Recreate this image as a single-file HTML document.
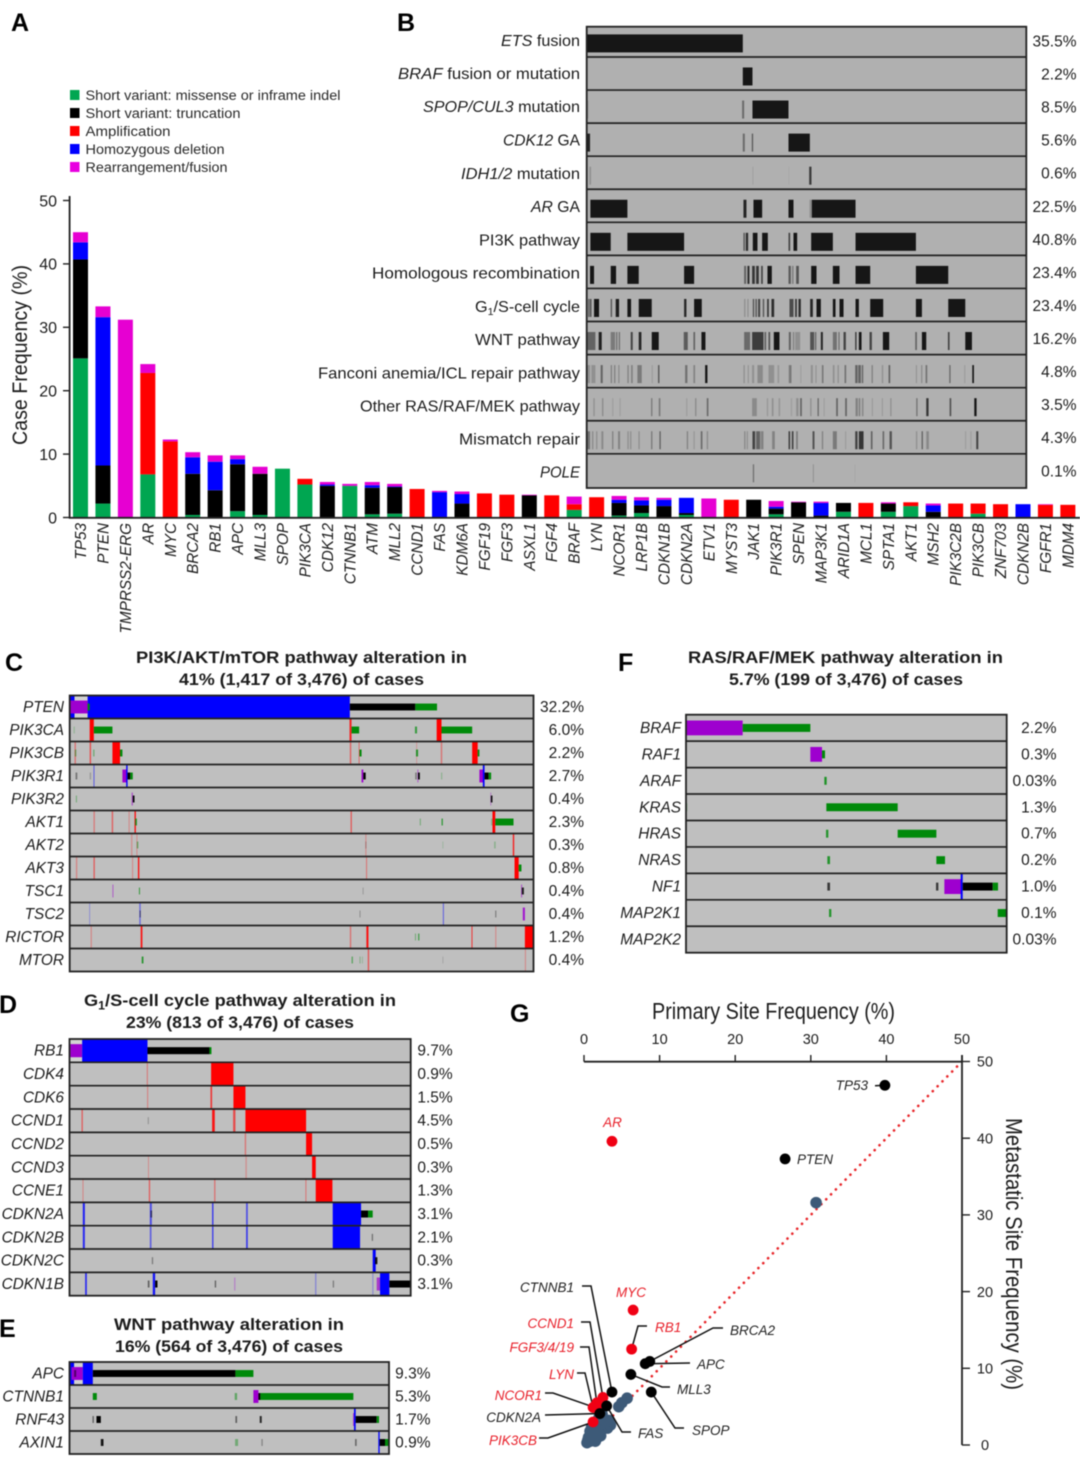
<!DOCTYPE html>
<html lang="en">
<head>
<meta charset="utf-8">
<title>Genomic alterations in prostate cancer</title>
<style>
html,body{margin:0;padding:0;background:#fff;}
svg{display:block;font-family:"Liberation Sans",sans-serif;filter:blur(0.4px);}
text{fill:#1c1c1c;}
.letter{font-size:25px;font-weight:bold;fill:#000;}
.ptitle{font-size:17px;font-weight:bold;fill:#1c1c1c;text-anchor:middle;}
.legend{font-size:13.5px;fill:#2a2a2a;}
.blabel{font-size:16px;text-anchor:end;fill:#1c1c1c;}
.i{font-style:italic;}
</style>
</head>
<body>
<svg id="figure" xmlns="http://www.w3.org/2000/svg" width="1080" height="1462" viewBox="0 0 1080 1462">
  <rect x="0" y="0" width="1080" height="1462" fill="#fff"/>

  <text class="letter" x="11" y="31">A</text>
  <text class="letter" x="397" y="31">B</text>
  <text class="letter" x="5" y="671">C</text>
  <text class="letter" x="618" y="671">F</text>
  <text class="letter" x="-1" y="1013">D</text>
  <text class="letter" x="-1" y="1337">E</text>
  <text class="letter" x="510" y="1022">G</text>

  <g id="legend">
    <rect x="70" y="90" width="9.5" height="10" fill="#00a651"/>
    <text class="legend" x="85.5" y="100" textLength="255" lengthAdjust="spacingAndGlyphs">Short variant: missense or inframe indel</text>
    <rect x="70" y="108" width="9.5" height="10" fill="#000"/>
    <text class="legend" x="85.5" y="118" textLength="155" lengthAdjust="spacingAndGlyphs">Short variant: truncation</text>
    <rect x="70" y="126" width="9.5" height="10" fill="#f00"/>
    <text class="legend" x="85.5" y="136" textLength="85" lengthAdjust="spacingAndGlyphs">Amplification</text>
    <rect x="70" y="144" width="9.5" height="10" fill="#00f"/>
    <text class="legend" x="85.5" y="154" textLength="139" lengthAdjust="spacingAndGlyphs">Homozygous deletion</text>
    <rect x="70" y="162" width="9.5" height="10" fill="#e800e0"/>
    <text class="legend" x="85.5" y="172" textLength="142" lengthAdjust="spacingAndGlyphs">Rearrangement/fusion</text>
  </g>

  <text transform="translate(27,355) rotate(-90)" text-anchor="middle" font-size="21.500" textLength="180" lengthAdjust="spacingAndGlyphs">Case Frequency (%)</text>
  <g id="panelA"></g>

  <g id="panelB"></g>
  <g id="panelBLabels">
    <text class="blabel" x="580" y="46" textLength="79" lengthAdjust="spacingAndGlyphs"><tspan class="i">ETS</tspan> fusion</text>
    <text class="blabel" x="580" y="79" textLength="182" lengthAdjust="spacingAndGlyphs"><tspan class="i">BRAF</tspan> fusion or mutation</text>
    <text class="blabel" x="580" y="112" textLength="157" lengthAdjust="spacingAndGlyphs"><tspan class="i">SPOP/CUL3</tspan> mutation</text>
    <text class="blabel" x="580" y="145.500" textLength="77" lengthAdjust="spacingAndGlyphs"><tspan class="i">CDK12</tspan> GA</text>
    <text class="blabel" x="580" y="179" textLength="119" lengthAdjust="spacingAndGlyphs"><tspan class="i">IDH1/2</tspan> mutation</text>
    <text class="blabel" x="580" y="212" textLength="49" lengthAdjust="spacingAndGlyphs"><tspan class="i">AR</tspan> GA</text>
    <text class="blabel" x="580" y="245.500" textLength="101" lengthAdjust="spacingAndGlyphs">PI3K pathway</text>
    <text class="blabel" x="580" y="278.500" textLength="208" lengthAdjust="spacingAndGlyphs">Homologous recombination</text>
    <text class="blabel" x="580" y="312" textLength="105" lengthAdjust="spacingAndGlyphs">G<tspan font-size="10.500" dy="3">1</tspan><tspan dy="-3">/S-cell cycle</tspan></text>
    <text class="blabel" x="580" y="345" textLength="105" lengthAdjust="spacingAndGlyphs">WNT pathway</text>
    <text class="blabel" x="580" y="378.500" textLength="262" lengthAdjust="spacingAndGlyphs">Fanconi anemia/ICL repair pathway</text>
    <text class="blabel" x="580" y="411.500" textLength="220" lengthAdjust="spacingAndGlyphs">Other RAS/RAF/MEK pathway</text>
    <text class="blabel" x="580" y="444.500" textLength="121" lengthAdjust="spacingAndGlyphs">Mismatch repair</text>
    <text class="blabel" x="580" y="477.500" textLength="40" lengthAdjust="spacingAndGlyphs"><tspan class="i">POLE</tspan></text>
  </g>

  <text class="ptitle" x="301.500" y="663" textLength="331" lengthAdjust="spacingAndGlyphs">PI3K/AKT/mTOR pathway alteration in</text>
  <text class="ptitle" x="301.500" y="685" textLength="245" lengthAdjust="spacingAndGlyphs">41% (1,417 of 3,476) of cases</text>
  <text class="ptitle" x="845.500" y="663" textLength="315" lengthAdjust="spacingAndGlyphs">RAS/RAF/MEK pathway alteration in</text>
  <text class="ptitle" x="846" y="685" textLength="234" lengthAdjust="spacingAndGlyphs">5.7% (199 of 3,476) of cases</text>
  <text class="ptitle" x="240" y="1006" textLength="312" lengthAdjust="spacingAndGlyphs">G<tspan font-size="11.500" dy="3.500">1</tspan><tspan dy="-3.500">/S-cell cycle pathway alteration in</tspan></text>
  <text class="ptitle" x="240" y="1028" textLength="228" lengthAdjust="spacingAndGlyphs">23% (813 of 3,476) of cases</text>
  <text class="ptitle" x="229" y="1330" textLength="230" lengthAdjust="spacingAndGlyphs">WNT pathway alteration in</text>
  <text class="ptitle" x="229" y="1352" textLength="228" lengthAdjust="spacingAndGlyphs">16% (564 of 3,476) of cases</text>

  <g id="panelC"></g>
  <g id="panelD"></g>
  <g id="panelE"></g>
  <g id="panelF"></g>

  <text x="773.500" y="1019" text-anchor="middle" font-size="23" textLength="243" lengthAdjust="spacingAndGlyphs">Primary Site Frequency (%)</text>
  <text transform="translate(1006,1254) rotate(90)" text-anchor="middle" font-size="23" textLength="272" lengthAdjust="spacingAndGlyphs">Metastatic Site Frequency (%)</text>
  <g id="panelG"></g>
</svg>

<script>
/* ---------- Panel A data ---------- */
const geneCategories = ["TP53","PTEN","TMPRSS2-ERG","AR","MYC","BRCA2","RB1","APC","MLL3","SPOP","PIK3CA","CDK12","CTNNB1","ATM","MLL2","CCND1","FAS","KDM6A","FGF19","FGF3","ASXL1","FGF4","BRAF","LYN","NCOR1","LRP1B","CDKN1B","CDKN2A","ETV1","MYST3","JAK1","PIK3R1","SPEN","MAP3K1","ARID1A","MCL1","SPTA1","AKT1","MSH2","PIK3C2B","PIK3CB","ZNF703","CDKN2B","FGFR1","MDM4"];
const missenseValues = [25.1,2.2,0,6.8,0,0.4,0,1,0.4,7.7,5.2,0,5,0.5,0.6,0,0,0,0,0,0,0,1.2,0,0.3,0.7,0,0.4,0,0,0,0.5,0,0,0.9,0,0.9,1.8,0,0,0.6,0,0,0,0];
const truncationValues = [15.6,6,0,0,0,6.5,4.3,7.4,6.5,0,0,5,0,4.2,4.2,0,0,2.2,0,0,3.5,0,0,0,2,1.2,1.8,0.3,0,0,2.8,0.9,2.4,0.3,1.4,0,1.3,0,0.9,0,0,0,0,0,0];
const amplificationValues = [0,0,0,16,12,0,0,0,0,0,0.9,0,0,0,0,4.5,0,0,3.8,3.6,0,3.5,0.9,3.2,0,0,0,0,0,2.8,0,0,0,0,0,2.3,0,0.6,0,2.2,1.6,2.1,0,2,2];
const homdelValues = [2.7,23.4,0,0,0,2.6,4.5,0.8,0,0,0,0.2,0,0.4,0.1,0,4,1.5,0,0,0,0,0,0,0.5,0.8,1,2.4,0,0,0,0.3,0,2,0,0,0,0,1,0,0,0,2.1,0,0];
const rearrangementValues = [1.6,1.7,31.2,1.4,0.3,0.8,1,0.6,1.1,0,0,0.4,0.3,0.5,0.4,0,0.2,0.4,0,0,0.1,0,1.2,0,0.6,0.5,0.3,0,3,0,0,0.9,0.1,0.2,0,0,0.2,0,0.3,0,0,0,0,0.1,0];
const yTickValues = [0,10,20,30,40,50];

/* ---------- Panel B data: [caseRankStart, caseRankEnd, shade] ---------- */
const pathwayPercents = ["35.5%","2.2%","8.5%","5.6%","0.6%","22.5%","40.8%","23.4%","23.4%","16.2%","4.8%","3.5%","4.3%","0.1%"];
const trackEts = [[20,488,1]];
const trackBraf = [[488,517,1]];
const trackSpop = [[21,25,.15],[486,492,.45],[517,625,1]];
const trackCdk12 = [[20,30,.9],[488,494,.45],[515,519,.55],[625,689,1]];
const trackIdh = [[28,33,.2],[517,520,.1],[625,627,.06],[687,694,.75]];
const trackArGa = [[31,142,1],[490,499,.9],[520,546,1],[625,640,1],[688,695,.2],[695,826,1]];
const trackPi3k = [[31,92,1],[142,312,1],[490,494,.6],[497,504,.85],[518,532,1],[546,563,1],[625,630,.7],[640,651,1],[693,758,1],[826,1007,1]];
const trackHr = [[30,42,1],[92,108,1],[142,176,1],[312,342,1],[492,498,.5],[502,508,.85],[516,524,.8],[528,536,.8],[543,548,.7],[562,575,1],[625,632,.55],[636,640,.35],[648,656,.6],[693,709,1],[758,778,1],[826,870,1],[1007,1104,1]];
const trackG1s = [[25,28,.7],[30,34,.7],[42,57,1],[92,96,.6],[107,117,.95],[142,153,1],[176,215,1],[312,319,.9],[342,365,1],[492,496,.2],[502,505,.25],[518,522,.6],[526,530,.6],[534,540,.7],[548,552,.6],[561,566,.8],[574,582,.85],[628,640,.65],[645,650,.8],[655,662,.85],[690,698,.9],[709,722,1],[758,766,1],[778,790,1],[826,836,1],[870,909,1],[1007,1025,1],[1104,1155,1]];
const trackWnt = [[22,46,.5],[56,65,.95],[92,105,.35],[108,112,.4],[116,120,.4],[152,158,.7],[176,184,.9],[215,236,1],[311,323,.55],[340,345,.5],[364,376,1],[492,510,.45],[516,550,.75],[553,558,.5],[565,570,.6],[581,598,1],[626,632,.5],[638,642,.3],[645,660,.2],[690,702,.6],[705,708,.6],[722,728,.9],[758,770,.4],[775,778,.5],[790,797,.7],[825,829,.8],[836,844,1],[868,875,.7],[908,927,1],[1005,1010,.5],[1025,1038,1],[1103,1108,.7],[1155,1175,1]];
const trackFanconi = [[22,30,.2],[34,46,.2],[62,68,.5],[92,96,.3],[102,106,.3],[115,118,.3],[142,146,.3],[153,158,.3],[172,185,.35],[215,218,.15],[234,238,.6],[315,322,.4],[340,345,.3],[375,382,1],[490,494,.2],[503,506,.2],[516,522,.2],[532,548,.25],[565,582,.2],[592,597,.15],[626,634,.35],[660,664,.1],[692,698,.2],[706,709,.2],[725,730,.35],[758,763,.2],[772,776,.2],[793,798,.4],[825,832,.5],[834,842,.5],[845,849,.5],[874,878,.3],[905,909,.2],[925,930,.5],[1007,1010,.2],[1023,1026,.3],[1036,1041,.4],[1107,1111,.45],[1152,1155,.15],[1176,1181,1]];
const trackOtherRas = [[40,44,.2],[66,70,.25],[96,100,.1],[118,122,.1],[213,217,.35],[236,241,.35],[318,322,.1],[345,349,.25],[380,385,.45],[516,530,.25],[560,564,.15],[575,580,.2],[595,600,.15],[632,636,.1],[648,655,.2],[660,665,.5],[690,694,.2],[712,716,.45],[730,734,.1],[768,773,.5],[795,800,.5],[826,833,.3],[836,840,.35],[845,850,.25],[875,878,.15],[905,908,.15],[930,934,.2],[1008,1012,.4],[1038,1045,.8],[1108,1113,.6],[1182,1189,1]];
const trackMismatch = [[22,30,.4],[36,40,.25],[48,52,.2],[64,70,.25],[96,100,.3],[114,120,.3],[142,146,.2],[150,154,.2],[175,179,.2],[213,217,.35],[238,242,.5],[320,324,.3],[340,344,.15],[362,367,.45],[380,384,.25],[492,496,.25],[500,503,.25],[517,525,.7],[528,540,.5],[542,550,.3],[576,584,.3],[625,630,.7],[635,640,.7],[648,653,.35],[697,703,.6],[725,729,.3],[758,770,.35],[795,798,.15],[825,832,.7],[836,850,.8],[872,877,.5],[907,912,.45],[928,935,.6],[1007,1011,.2],[1024,1028,.5],[1038,1046,.25],[1154,1158,.1],[1170,1174,.1],[1188,1194,.7]];
const trackPole = [[518,522,.4],[698,701,.2],[823,825,.08]];
const pathwayTracks = [trackEts,trackBraf,trackSpop,trackCdk12,trackIdh,trackArGa,trackPi3k,trackHr,trackG1s,trackWnt,trackFanconi,trackOtherRas,trackMismatch,trackPole];

/* ---------- Panel C data: [type, caseRankStart, caseRankEnd, strength] ---------- */
const pi3kGenes = ["PTEN","PIK3CA","PIK3CB","PIK3R1","PIK3R2","AKT1","AKT2","AKT3","TSC1","TSC2","RICTOR","MTOR"];
const pi3kPercents = ["32.2%","6.0%","2.2%","2.7%","0.4%","2.3%","0.3%","0.8%","0.4%","0.4%","1.2%","0.4%"];
const pi3kAlterations = [
  [["d",202,216],["x",216,254],["d",254,1015],["r",202,254],["m",254,260],["t",1015,1205],["m",1205,1268]],
  [["m",213,217,.2],["a",260,272],["m",272,326],["a",1014,1020,.8],["m",1020,1042],["m",1204,1210,.7],["a",1267,1281],["m",1281,1370]],
  [["a",216,220,.4],["m",217,221,.5],["a",260,264,.6],["m",270,274,.4],["a",326,348],["m",348,355],["a",1015,1019,.5],["a",1041,1043,.6],["m",1043,1049],["a",1208,1210,.3],["m",1207,1213,.8],["a",1279,1283,.4],["a",1370,1386],["m",1386,1391]],
  [["t",219,224,.4],["t",260,264,.2],["d",271,274,.5],["r",355,368],["d",366,370],["t",370,378],["m",378,385],["r",1049,1054],["t",1054,1061],["t",1205,1209,.4],["r",1211,1214,.5],["t",1213,1218],["m",1280,1283,.3],["r",1391,1402],["d",1401,1406],["t",1406,1418],["m",1418,1425]],
  [["m",220,223,.4],["r",382,385,.7],["t",385,390],["r",1423,1425,.5],["t",1424,1429,.9]],
  [["a",271,275,.35],["a",324,328,.5],["a",373,376,.3],["a",390,394,.9],["m",392,397,.8],["a",1017,1021,.5],["m",1218,1221,.4],["m",1281,1285,.7],["m",1425,1429,.3],["a",1429,1437],["m",1437,1490]],
  [["a",380,384,.25],["a",396,398,.4],["m",397,401,.5],["a",1060,1063,.3],["t",1060,1063,.2],["m",1284,1286,.25],["m",1434,1438,.3],["a",1488,1492,.85]],
  [["a",220,224,.3],["a",271,275,.5],["a",383,386,.3],["a",400,404,.9],["a",1062,1065,.4],["a",1493,1505],["m",1505,1513]],
  [["r",326,329,.5],["m",403,406,.7],["t",1052,1055,.2],["r",1512,1515,.6],["t",1514,1520,.85]],
  [["d",259,261,.35],["d",404,408,.45],["t",405,408,.5],["t",1043,1046,.25],["d",1285,1288,.5],["t",1437,1440,.4],["r",1517,1523,.9]],
  [["a",263,266,.35],["a",408,413,.9],["a",1015,1019,.4],["a",1063,1069,.9],["m",1204,1207,.4],["m",1213,1217,.6],["a",1368,1371,.7],["a",1437,1440,.3],["a",1523,1548]],
  [["m",411,416,.8],["m",1020,1024,.5],["m",1043,1046,.3],["a",1067,1071,.55],["m",1050,1053,.2],["t",1284,1286,.2],["a",1523,1526,.3]]
];

/* ---------- Panel D data ---------- */
const cycleGenes = ["RB1","CDK4","CDK6","CCND1","CCND2","CCND3","CCNE1","CDKN2A","CDKN2B","CDKN2C","CDKN1B"];
const cyclePercents = ["9.7%","0.9%","1.5%","4.5%","0.5%","0.3%","1.3%","3.1%","2.1%","0.3%","3.1%"];
const cycleAlterations = [
  [["x",210,246],["r",210,246],["d",246,442],["t",442,628],["m",628,634]],
  [["a",440,443,.4],["a",633,700]],
  [["a",441,444,.35],["a",631,636,.7],["a",700,736]],
  [["a",244,248,.5],["t",443,446,.25],["a",636,644,.9],["a",699,706,.6],["a",736,918]],
  [["a",734,738,.4],["a",918,936]],
  [["a",444,446,.4],["a",736,740,.25],["a",936,947]],
  [["a",247,250,.3],["a",446,450,.5],["a",642,646,.4],["a",916,919,.4],["a",947,997]],
  [["d",248,254,.85],["d",449,455,.6],["t",451,456,.5],["d",636,640,.75],["d",738,743,.6],["d",998,1083],["t",1083,1104],["m",1104,1118]],
  [["d",248,254,.8],["d",449,454,.5],["d",636,640,.7],["d",738,743,.7],["d",998,1080],["t",1115,1119,.4]],
  [["t",455,459,.35],["d",1118,1127],["t",1125,1132,.9]],
  [["d",255,260,.8],["t",443,448,.5],["d",458,465,.9],["t",465,472],["t",644,648,.5],["r",702,706,.3],["d",945,949,.3],["t",998,1002,.35],["d",1117,1120,.3],["r",1130,1140,.7],["d",1140,1168],["t",1168,1232]]
];

/* ---------- Panel E data ---------- */
const wntGenes = ["APC","CTNNB1","RNF43","AXIN1"];
const wntPercents = ["9.3%","5.3%","1.7%","0.9%"];
const wntAlterations = [
  [["d",210,222],["x",222,248],["r",214,248],["d",248,278],["t",222,228,.5],["t",278,706],["m",706,760]],
  [["m",278,290],["m",704,711,.5],["r",760,775],["t",775,781],["m",781,1060]],
  [["t",277,281,.5],["t",289,302],["t",706,711,.5],["t",779,785,.8],["r",1059,1062,.7],["d",1062,1067],["t",1067,1130],["m",1130,1137]],
  [["t",302,310,.9],["m",705,714,.4],["t",784,788,.3],["t",1065,1070,.45],["d",1135,1139],["t",1139,1155],["m",1155,1167]]
];

/* ---------- Panel F data ---------- */
const rasGenes = ["BRAF","RAF1","ARAF","KRAS","HRAS","NRAS","NF1","MAP2K1","MAP2K2"];
const rasPercents = ["2.2%","0.3%","0.03%","1.3%","0.7%","0.2%","1.0%","0.1%","0.03%"];
const rasAlterations = [
  [["r",170,338],["m",338,541]],
  [["r",541,576],["m",576,585]],
  [["m",583,590,.85]],
  [["m",168,172,.3],["m",589,803]],
  [["m",588,595,.8],["m",803,919]],
  [["m",592,600,.8],["m",919,945]],
  [["t",592,600,.7],["t",918,925,.7],["r",943,993],["d",992,998],["t",998,1088],["m",1088,1104]],
  [["m",597,604,.8],["m",1103,1130]],
  []
];

/* ---------- Panel G data ---------- */
const scatterTicks = [0,10,20,30,40,50];
const highlightGenes = ["TP53","AR","PTEN","MYC","RB1","BRCA2","APC","MLL3","SPOP","CTNNB1","FAS","CDKN2A","CCND1","FGF3/4/19","LYN","NCOR1","PIK3CB"];
const highlightPrimary = [39.8,3.7,26.6,6.5,6.3,8.7,8.1,6.2,8.9,3.7,3.0,2.1,2.5,1.7,1.2,1.7,1.2];
const highlightMetastatic = [46.9,39.6,37.3,17.6,12.5,10.9,10.6,9.2,6.9,6.9,5.1,4.1,6.2,5.5,4.9,4.8,3.0];
const highlightIsAmplified = [0,1,0,1,1,0,0,0,0,0,0,0,1,1,1,1,1];
const otherPrimary = [30.7,5.7,5.0,4.6,0.4,0.6,0.8,1.0,1.2,1.4,1.7,0.8,1.0,1.3,1.6,1.9,2.1,2.3,2.5,2.8,3.0,3.2,1.7,2.0,2.4,2.7,3.1,3.5,1.5,2.2,0.5,1.2,1.8,2.4,2.9,3.3,1.4,0.9];
const otherMetastatic = [31.6,6.1,5.5,5.0,0.3,1.0,0.5,1.4,0.8,1.8,0.9,1.8,2.3,1.3,2.7,1.4,3.1,2.0,3.5,2.4,3.0,2.7,3.1,3.6,4.0,3.3,2.2,2.6,0.5,1.2,0.6,1.0,1.7,2.8,3.0,3.2,2.4,1.2];

/* ---------- helpers ---------- */
const NS = "http://www.w3.org/2000/svg";
function make(tag, parent, attrs) {
  const el = document.createElementNS(NS, tag);
  for (const k in attrs) el.setAttribute(k, attrs[k]);
  parent.appendChild(el);
  return el;
}
function slug(s) { return s.toLowerCase().replace(/[^a-z0-9]+/g, "-"); }

/* ---------- Panel A ---------- */
(function () {
  const g = document.getElementById("panelA");
  const xBand = i => 80.5 + i * 22.44;
  const yPos = v => 517.5 - v * 6.34;
  const series = [
    ["missense", missenseValues, "#00a651"],
    ["truncation", truncationValues, "#000000"],
    ["amplification", amplificationValues, "#ff0000"],
    ["homozygous-deletion", homdelValues, "#0000ff"],
    ["rearrangement", rearrangementValues, "#e600d2"]
  ];
  geneCategories.forEach((gene, i) => {
    let base = 0;
    series.forEach(s => {
      const v = s[1][i];
      if (v > 0) {
        const el = make("rect", g, { x: xBand(i) - 7.5, y: yPos(base + v), width: 15, height: v * 6.34, fill: s[2] });
        
        
      }
      base += v;
    });
    const t = make("text", g, { transform: "translate(" + (xBand(i) + 5.5) + ",523) rotate(-90)", "text-anchor": "end", "font-size": 15.3, "font-style": "italic" });
    t.textContent = gene;
    
    
  });
  const yAxis = make("line", g, { x1: 69.6, x2: 69.6, y1: 196, y2: 518.500, stroke: "#222", "stroke-width": 1.8 });
  
  
  const xAxis = make("line", g, { x1: 69, x2: 1080, y1: 517.8, y2: 517.8, stroke: "#222", "stroke-width": 1.8 });
  
  
  yTickValues.forEach(v => {
    const tick = make("line", g, { x1: 63, x2: 69.6, y1: yPos(v), y2: yPos(v), stroke: "#222", "stroke-width": 1.4 });
    
    
    const lab = make("text", g, { x: 57, y: yPos(v) + 5.8, "text-anchor": "end", "font-size": 16 });
    lab.textContent = v;
    
    
  });
})();

/* ---------- Panel B ---------- */
(function () {
  const g = document.getElementById("panelB");
  const left = 586.7, right = 1026.3;
  const xPos = r => left + (r - 20) / 1318 * (right - left);
  const center = i => 43.4 + 33.07 * i;
  const bg = make("rect", g, { x: left, y: 26.7, width: right - left, height: 461.3, fill: "#b0b0b0" });
  
  
  pathwayTracks.forEach((segs, i) => {
    segs.forEach((s, j) => {
      const el = make("rect", g, { x: xPos(s[0]), y: center(i) - 9, width: xPos(s[1]) - xPos(s[0]), height: 18, fill: "#161616", opacity: s[2] });
      
      
    });
    if (i > 0) {
      const sep = make("line", g, { x1: left, x2: right, y1: center(i) - 19.5, y2: center(i) - 19.5, stroke: "#222", "stroke-width": 1.7 });
      
      
    }
    const pct = make("text", g, { x: 1076.5, y: center(i) + 3, "text-anchor": "end", "font-size": 15.5 });
    pct.textContent = pathwayPercents[i];
    
    
  });
  const frame = make("rect", g, { x: left, y: 26.7, width: right - left, height: 461.3, fill: "none", stroke: "#222", "stroke-width": 1.8 });
  
  
})();

/* ---------- Oncoprint panels C, D, E, F ---------- */
const alterationColors = { a: "#ff0000", d: "#0000ff", r: "#9e00cf", t: "#000000", m: "#008a0a", x: "#d2d2d2" };
const alterationHeights = { a: 1, d: 1, r: 0.56, t: 0.3, m: 0.3, x: 1 };
function drawOncoprint(id, genes, percents, alterations, box) {
  const g = document.getElementById(id);
  const rowH = (box.bottom - box.top) / genes.length;
  const xPos = r => box.left + (r - box.d0) / (box.d1 - box.d0) * (box.right - box.left);
  const bg = make("rect", g, { x: box.left, y: box.top, width: box.right - box.left, height: box.bottom - box.top, fill: "#bfbfbf" });
  
  
  genes.forEach((gene, i) => {
    const cy = box.top + rowH * (i + 0.5);
    alterations[i].forEach((s, j) => {
      const h = alterationHeights[s[0]] * rowH;
      const el = make("rect", g, { x: xPos(s[1]), y: cy - h / 2, width: xPos(s[2]) - xPos(s[1]), height: h, fill: alterationColors[s[0]], opacity: s[3] === undefined ? 1 : s[3] });
      
      
    });
    const lab = make("text", g, { x: box.labelX, y: cy + 5, "text-anchor": "end", "font-size": 15.4, "font-style": "italic" });
    lab.textContent = gene;
    
    
    const pct = make("text", g, { x: box.pctX, y: cy + 5, "text-anchor": "end", "font-size": 15.5 });
    pct.textContent = percents[i];
    
    
    if (i > 0) {
      const sep = make("line", g, { x1: box.left, x2: box.right, y1: box.top + rowH * i, y2: box.top + rowH * i, stroke: "#222", "stroke-width": 1.7 });
      
      
    }
  });
  const frame = make("rect", g, { x: box.left, y: box.top, width: box.right - box.left, height: box.bottom - box.top, fill: "none", stroke: "#222", "stroke-width": 1.8 });
  
  
}
drawOncoprint("panelC", pi3kGenes, pi3kPercents, pi3kAlterations, { left: 69.7, right: 533.5, top: 695.5, bottom: 971.5, d0: 202, d1: 1548, labelX: 64, pctX: 584 });
drawOncoprint("panelD", cycleGenes, cyclePercents, cycleAlterations, { left: 69.5, right: 410.7, top: 1039, bottom: 1295.7, d0: 208, d1: 1232, labelX: 64, pctX: 452.7 });
drawOncoprint("panelE", wntGenes, wntPercents, wntAlterations, { left: 69.5, right: 389, top: 1362, bottom: 1454, d0: 208, d1: 1167, labelX: 64, pctX: 430.5 });
drawOncoprint("panelF", rasGenes, rasPercents, rasAlterations, { left: 686, right: 1006.7, top: 714.7, bottom: 952.7, d0: 168, d1: 1130, labelX: 681, pctX: 1056.5 });

/* ---------- Panel G ---------- */
(function () {
  const g = document.getElementById("panelG");
  const xPos = v => 584 + v * 7.56;
  const yPos = v => 1445 - v * 7.67;
  const xAxis = make("line", g, { x1: xPos(0), x2: xPos(50), y1: 1061.7, y2: 1061.7, stroke: "#222", "stroke-width": 1.8 });
  
  
  const yAxis = make("line", g, { x1: xPos(50), x2: xPos(50), y1: 1055, y2: yPos(0), stroke: "#222", "stroke-width": 1.8 });
  
  
  scatterTicks.forEach(v => {
    const tx = make("line", g, { x1: xPos(v), x2: xPos(v), y1: 1055, y2: 1061.7, stroke: "#222", "stroke-width": 1.4 });
    
    
    const lx = make("text", g, { x: xPos(v), y: 1044, "text-anchor": "middle", "font-size": 14.5 });
    lx.textContent = v;
    
    
    const ty = make("line", g, { x1: xPos(50), x2: xPos(50) + 8, y1: yPos(v), y2: yPos(v), stroke: "#222", "stroke-width": 1.4 });
    
    
    const ly = make("text", g, { x: 985, y: yPos(v) + 5.2, "text-anchor": "middle", "font-size": 14.5 });
    ly.textContent = v;
    
    
  });
  const diag = make("line", g, { x1: xPos(0), y1: yPos(0), x2: xPos(49.5), y2: yPos(49.5), stroke: "#e8262a", "stroke-width": 2.6, "stroke-linecap": "round", "stroke-dasharray": "0.1 6.8" });
  
  
  otherPrimary.forEach((p, i) => {
    const c = make("circle", g, { cx: xPos(p), cy: yPos(otherMetastatic[i]), r: 5.8, fill: "#3d5a78" });
    
    
  });
  const layout = {
    "TP53": { text: [868, 1090, "end"], path: [[875, 1085.7]] },
    "AR": { text: [612.5, 1127, "middle"], path: [] },
    "PTEN": { text: [797, 1164, "start"], path: [] },
    "MYC": { text: [631, 1297, "middle"], path: [] },
    "RB1": { text: [655, 1332, "start"], path: [[647, 1326], [638, 1326]] },
    "BRCA2": { text: [730, 1335, "start"], path: [[723, 1328], [713, 1328]] },
    "APC": { text: [697, 1369, "start"], path: [[690, 1363]] },
    "MLL3": { text: [677, 1394, "start"], path: [[670, 1387], [662, 1387]] },
    "SPOP": { text: [692, 1435, "start"], path: [[684, 1428], [675, 1428]] },
    "CTNNB1": { text: [574, 1292, "end"], path: [[582, 1286], [591, 1286]] },
    "FAS": { text: [638, 1438, "start"], path: [[631, 1432], [622, 1432]] },
    "CDKN2A": { text: [541, 1422, "end"], path: [[545, 1415]] },
    "CCND1": { text: [574, 1328, "end"], path: [[581, 1322], [590, 1322]] },
    "FGF3/4/19": { text: [574, 1352, "end"], path: [[580, 1347], [589, 1347]] },
    "LYN": { text: [574, 1379, "end"], path: [[577, 1373], [585, 1373]] },
    "NCOR1": { text: [542, 1400, "end"], path: [[545, 1393], [553, 1393]] },
    "PIK3CB": { text: [537, 1445, "end"], path: [[539, 1438], [548, 1438]] }
  };
  highlightGenes.forEach((gene, i) => {
    const px = xPos(highlightPrimary[i]), py = yPos(highlightMetastatic[i]);
    const a = layout[gene];
    if (a.path.length) {
      const pts = a.path.concat([[px, py]]).map(p => p.join(",")).join(" ");
      const l = make("polyline", g, { points: pts, fill: "none", stroke: "#111", "stroke-width": 1.5 });
      
      
    }
  });
  const order = highlightGenes.map((_, i) => i).sort((a, b) => highlightIsAmplified[b] - highlightIsAmplified[a]);
  order.forEach(i => {
    const gene = highlightGenes[i];
    const c = make("circle", g, { cx: xPos(highlightPrimary[i]), cy: yPos(highlightMetastatic[i]), r: 5.4, fill: highlightIsAmplified[i] ? "#f00014" : "#000" });
    
    
    const a = layout[gene];
    const t = make("text", g, { x: a.text[0], y: a.text[1], "text-anchor": a.text[2], "font-size": 13.5, "font-style": "italic" });
    t.style.fill = highlightIsAmplified[i] ? "#e8202a" : "#222";
    t.textContent = gene;
    
    
  });
})();
</script>
</body>
</html>
